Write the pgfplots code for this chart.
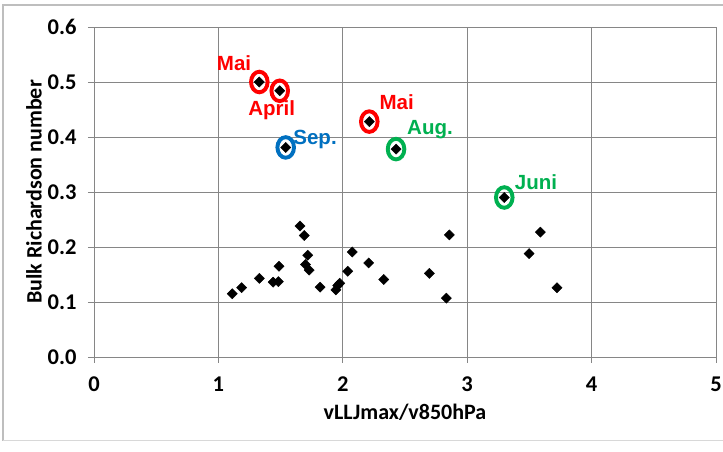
\documentclass[border=0pt]{standalone}
\usepackage{pgfplots}
\pgfplotsset{compat=1.18}
\usepackage{fontspec}
\setmainfont{Carlito}
\newfontfamily\notefont{Liberation Sans}

\definecolor{gridgray}{RGB}{134,134,134}
\definecolor{frame}{RGB}{190,190,190}
\definecolor{xred}{RGB}{255,0,0}
\definecolor{xblue}{RGB}{0,112,192}
\definecolor{xgreen}{RGB}{0,176,80}

% ring drawn around the highlighted cases
\pgfdeclareplotmark{ring}{%
  \pgfpathellipse{\pgfpointorigin}{\pgfqpoint{8.3pt}{0pt}}{\pgfqpoint{0pt}{10.3pt}}%
  \pgfusepathqstroke}

\begin{document}
\begin{tikzpicture}[x=1pt,y=1pt]
\useasboundingbox (0,0) rectangle (723,452);
\fill[white] (0,0) rectangle (723,452);
% chart frame
\draw[frame, line width=1.2pt] (3,11) -- (3,447) -- (740,447);
\draw[frame!60, line width=1pt] (3,11) -- (740,11);

\begin{axis}[
  at={(94pt,95pt)}, anchor=south west,
  scale only axis, width=622pt, height=330pt,
  xmin=0, xmax=5, ymin=0, ymax=0.6,
  xtick={0,1,2,3,4,5}, ytick={0,0.1,0.2,0.3,0.4,0.5,0.6},
  axis lines=left, axis line style={gridgray, line width=0.9pt, -},
  grid=major, major grid style={gridgray, line width=0.8pt},
  tick align=outside, major tick length=6pt,
  tick style={gridgray, line width=0.8pt},
  ticklabel style={font=\fontsize{22.5}{26}\selectfont\bfseries},
  /pgf/number format/assume math mode=true,
  yticklabel style={xshift=-8pt, /pgf/number format/.cd, fixed, fixed zerofill, precision=1},
  xticklabel style={yshift=-10pt, /pgf/number format/.cd, fixed, precision=0},
  xlabel={vLLJmax/v850hPa},
  ylabel={Bulk Richardson number},
  label style={font=\fontsize{22}{26}\selectfont\bfseries},
  xlabel style={yshift=-6pt},
  ylabel style={yshift=-1pt},
  clip=false,
]
% all cases
\addplot[only marks, mark=square*, mark size=3.6pt,
  mark options={rotate=45, black, fill=black}] table {
x y
1.112 0.115
1.187 0.126
1.329 0.143
1.440 0.136
1.482 0.137
1.487 0.165
1.656 0.238
1.690 0.221
1.718 0.185
1.700 0.168
1.730 0.158
1.817 0.127
1.945 0.122
1.960 0.130
1.975 0.134
2.040 0.156
2.076 0.191
2.208 0.171
2.329 0.141
2.696 0.152
2.832 0.107
2.856 0.222
3.497 0.188
3.588 0.227
3.722 0.126
1.329 0.500
1.493 0.484
1.541 0.381
2.213 0.428
2.428 0.378
3.298 0.290
};
% highlighted cases
\addplot[only marks, mark=ring, mark options={xred, line width=3.9pt}] table {
x y
1.329 0.500
1.493 0.484
2.213 0.428
};
\addplot[only marks, mark=ring, mark options={xblue, line width=3.9pt}] table {
x y
1.541 0.381
};
\addplot[only marks, mark=ring, mark options={xgreen, line width=3.9pt}] table {
x y
2.428 0.378
3.298 0.290
};
\begin{scope}[font=\notefont\fontsize{20.5}{24}\selectfont\bfseries]
\node[xred]   at (axis cs:1.126,0.535) {Mai};
\node[xred]   at (axis cs:1.428,0.4485) {April};
\node[xblue]  at (axis cs:1.777,0.396) {Sep.};
\node[xred]   at (axis cs:2.433,0.464) {Mai};
\node[xgreen] at (axis cs:2.701,0.413) {Aug.};
\node[xgreen] at (axis cs:3.553,0.317) {Juni};
\end{scope}
\end{axis}
\end{tikzpicture}
\end{document}
